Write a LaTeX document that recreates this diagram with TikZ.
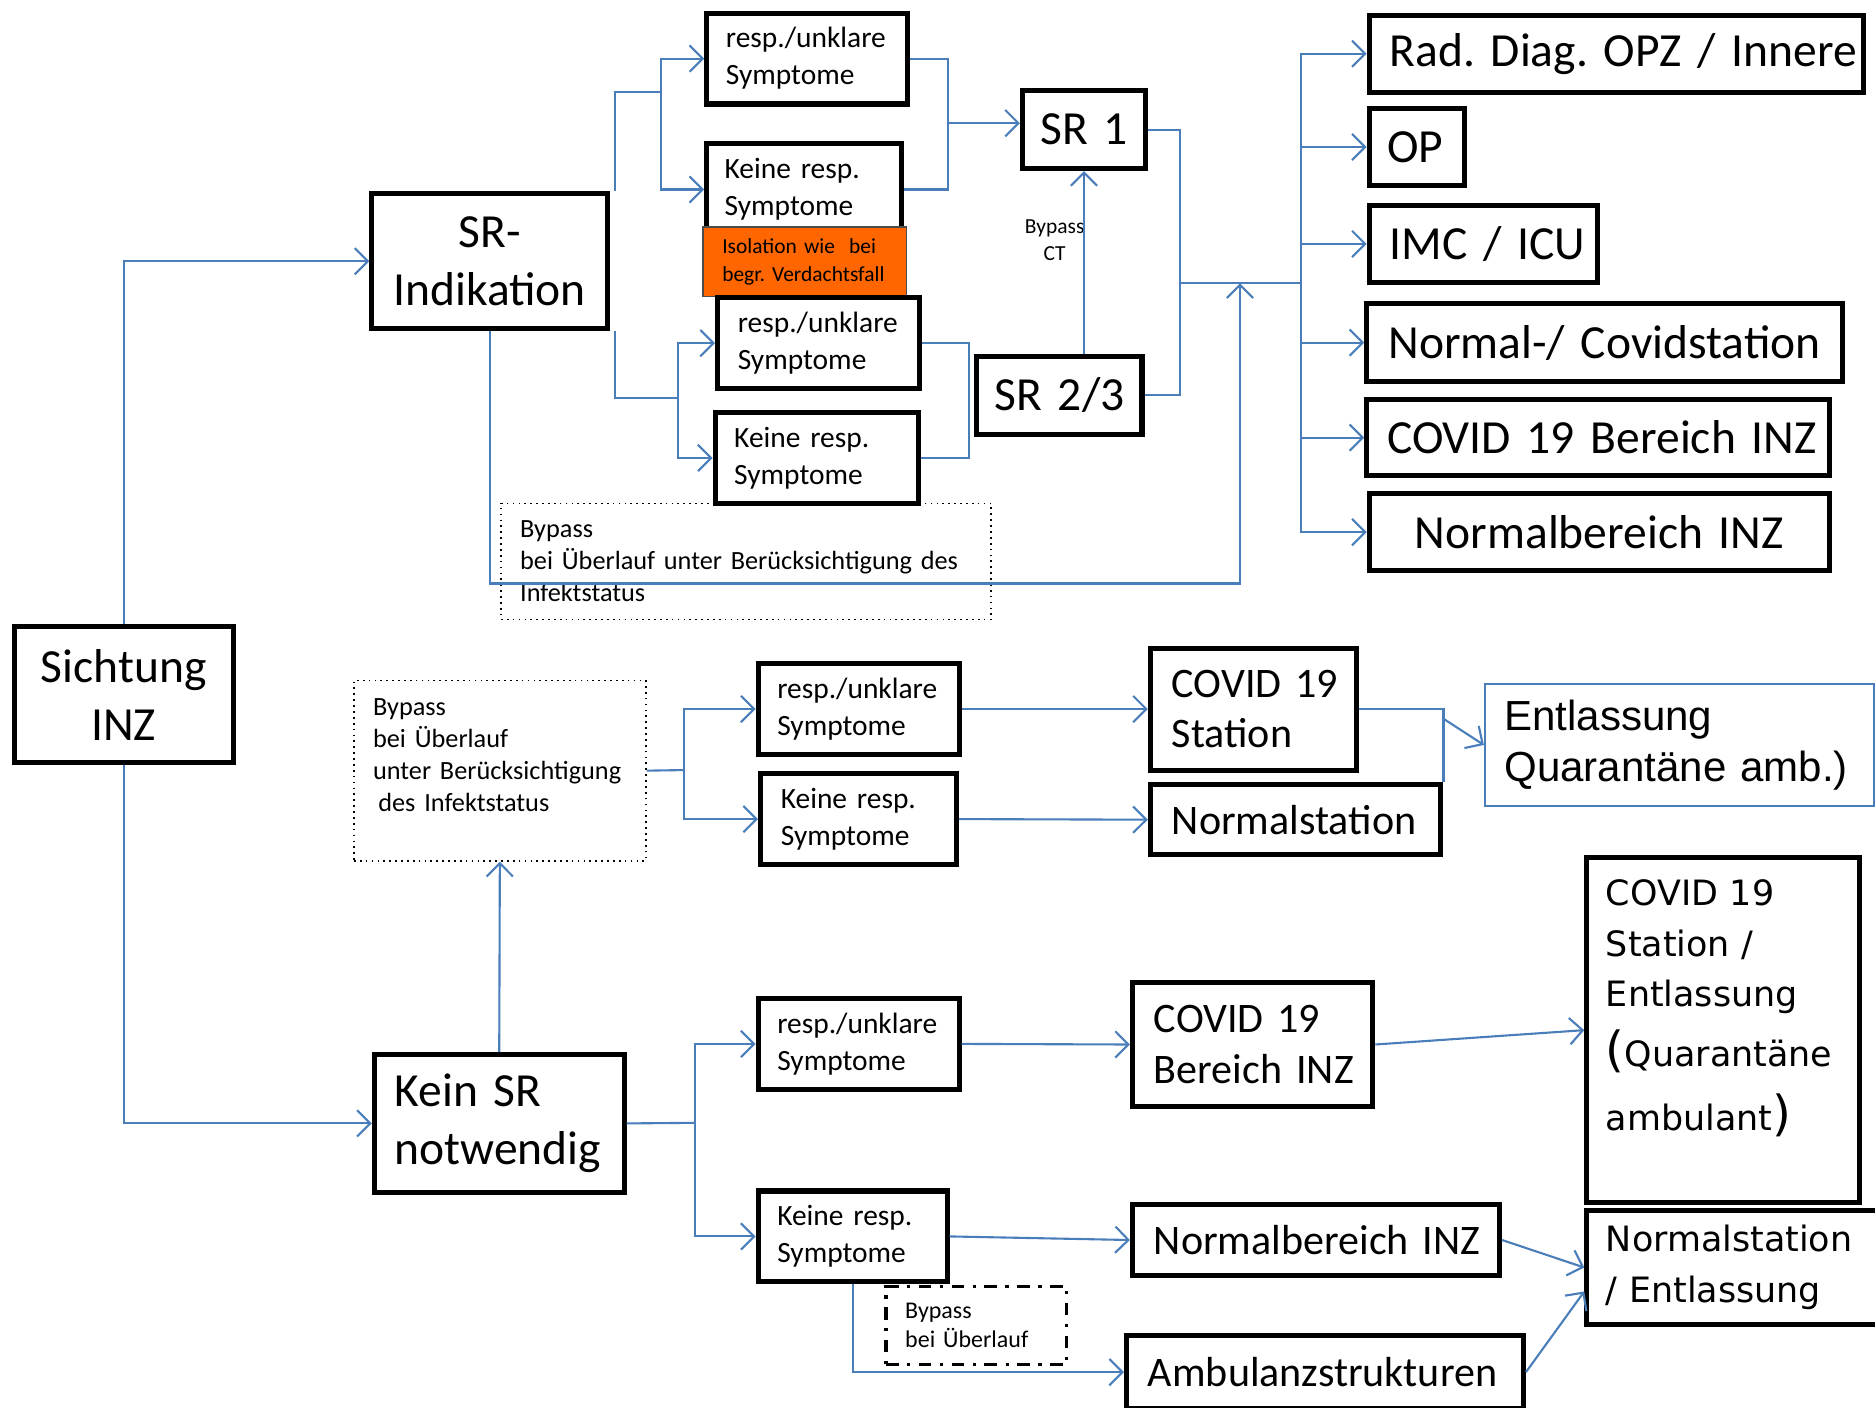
\documentclass[tikz,border=0pt]{standalone}
\usepackage{fontspec}
\setmainfont{Carlito}
\newfontfamily\verd{DejaVu Sans}
\newfontfamily\arial{Liberation Sans}
\usetikzlibrary{arrows.meta,calc}

\definecolor{flowblue}{RGB}{74,126,187}
\definecolor{isoorange}{RGB}{255,102,0}
\frenchspacing
\hyphenpenalty=10000
\exhyphenpenalty=10000
\newcommand\fsL{\fontsize{11.3}{13.7}\selectfont}
\newcommand\fsM{\fontsize{10}{11.9}\selectfont}
\newcommand\fsS{\fontsize{7}{8.8}\selectfont}
\newcommand\fsT{\fontsize{6.25}{7.6}\selectfont}
\newcommand\fsB{\fontsize{5.7}{6.8}\selectfont}
\newcommand\fsX{\fontsize{5.1}{6.5}\selectfont}
\newcommand\fsD{\verd\fontsize{8.3}{12}\selectfont}
\newcommand\fsA{\arial\fontsize{10}{12.2}\selectfont}
\newcommand\bigparen[1]{{\fontsize{11.5}{12}\selectfont #1}}

\begin{document}
\begin{tikzpicture}[x=0.01cm, y=-0.01cm,
    >={Straight Barb[length=1.1mm,width=2.2mm]},
    box/.style={draw, line width=1.2pt, fill=white, inner sep=0pt, align=left},
    sz/.style n args={3}{minimum width=#1*0.01cm, minimum height=#2*0.01cm, text width=#1*0.01cm-#3*0.02cm},
    flow/.style={draw=flowblue, line width=0.5pt},
    bypass/.style={draw, line width=0.4pt, densely dotted, inner sep=0pt, align=left, font=\fsT}]

      \useasboundingbox (0,0) rectangle (1568,1177);

      \node[box, sz={183}{114}{0}, align=center, font=\fsL] (sicht) at (103.5,581) {Sichtung\\INZ};
      \node[box, sz={197}{113}{0}, align=center, font=\fsL] (srind) at (409.5,218.5) {SR-\\Indikation};
      \node[box, sz={168}{76}{16}, font=\fsS] (ru1) at (675,49) {resp./unklare\\Symptome};
      \node[box, sz={163}{77}{15}, font=\fsS] (kr1) at (672.5,158.5) {\mbox{Keine resp.}\\Symptome};
      \node[draw=black!70, line width=0.4pt, fill=isoorange, inner sep=0pt, align=left, sz={170}{58}{16}, font=\fsX] (iso) at (673,219) {\mbox{Isolation wie~ bei}\\\mbox{begr. Verdachtsfall}};
      \node[box, sz={169}{76}{17}, font=\fsS] (ru2) at (684.5,287) {resp./unklare\\Symptome};
      \node[bypass, sz={410}{97}{16}] (bp1) at (624,469.5) {Bypass\\\mbox{bei Überlauf unter Berücksichtigung des}\\Infektstatus};
      \node[box, sz={170}{76}{16}, font=\fsS] (kr2) at (683,383) {\mbox{Keine resp.}\\Symptome};
      \node[box, sz={103}{65}{0}, align=center, font=\fsL] (sr1) at (906.5,108.5) {SR 1};
      \node[box, sz={138}{65}{0}, align=center, font=\fsL] (sr23) at (886,330.5) {SR 2/3};
      \node[font=\fsX, align=center] (bpct) at (882,201) {Bypass\\CT};

      \node[box, sz={413}{64}{17}, font=\fsL] (rad) at (1351.5,45) {\mbox{Rad. Diag. OPZ / Innere}};
      \node[box, sz={80}{64}{15}, font=\fsL] (op) at (1185,123) {OP};
      \node[box, sz={191}{64}{17}, font=\fsL] (imc) at (1240.5,204) {\mbox{IMC / ICU}};
      \node[box, sz={398}{65}{18}, font=\fsL] (ncov) at (1342,286.5) {\mbox{Normal-/ Covidstation}};
      \node[box, sz={387}{64}{17}, font=\fsL] (cov19) at (1336.5,366) {\mbox{COVID 19 Bereich INZ}};
      \node[box, sz={385}{64}{0}, align=center, font=\fsL] (nbi) at (1337.5,445) {Normalbereich INZ};

      \node[bypass, sz={244}{151}{16}] (bp2) at (418,644.5) {Bypass\\\mbox{bei Überlauf}\\\mbox{unter Berücksichtigung}\\\mbox{\hspace*{0.2em}des Infektstatus}\\\mbox{}};
      \node[box, sz={209}{115}{17}, font=\fsL] (kein) at (417.5,939.5) {\mbox{Kein SR}\\notwendig};
      \node[box, sz={168}{76}{16}, font=\fsS] (ru3) at (718,593) {resp./unklare\\Symptome};
      \node[box, sz={164}{76}{17}, font=\fsS] (kr3) at (718,685) {\mbox{Keine resp.}\\Symptome};
      \node[box, sz={172}{102}{18}, font=\fsM] (cs) at (1048,593) {\mbox{COVID 19}\\Station};
      \node[box, sz={243}{59}{18}, font=\fsM] (ns) at (1083.5,685.5) {Normalstation};
      \node[draw=flowblue, line width=0.6pt, inner sep=0pt, align=left, sz={325}{102}{16}, font=\fsA] (ent) at (1404.5,623) {Entlassung\\\mbox{Quarantäne amb.)}};

      \node[box, sz={168}{76}{16}, font=\fsS] (ru4) at (718,873) {resp./unklare\\Symptome};
      \node[box, sz={158}{76}{16}, font=\fsS] (kr4) at (713,1034) {\mbox{Keine resp.}\\Symptome};
      \node[box, sz={201}{103}{18}, font=\fsM] (cb) at (1047.5,873.5) {\mbox{COVID 19}\\\mbox{Bereich INZ}};
      \node[box, sz={307}{60}{18}, font=\fsM] (nb2) at (1100.5,1037) {\mbox{Normalbereich INZ}};
      \node[draw, line width=0.8pt, dash dot, inner sep=0pt, align=left, sz={151}{65}{16}, font=\fsB] (bp3) at (816.5,1108.5) {Bypass\\\mbox{bei Überlauf}};
      \node[box, sz={332}{61}{18}, font=\fsM] (amb) at (1108,1147.5) {Ambulanzstrukturen};
      \node[box, sz={253}{96}{16}, font=\fsD] (neE) at (1453.5,1060) {\mbox{Normalstation}\\\mbox{/ Entlassung}};
      \node[box, sz={228}{289}{16}, font=\fsD] (csE) at (1441,861.5) {\mbox{COVID 19}\\\mbox{Station /}\\Entlassung\\[2.3pt]\mbox{\bigparen{(}Quarantäne}\\[3.1pt]ambulant\bigparen{)}\\\mbox{}};

      \coordinate (fork1) at (553,77);
      \coordinate (fork2) at (567,333);
      \coordinate (m1) at (793,103);
      \coordinate (m2) at (810,335);
      \coordinate (mergeR) at (987,237);
      \coordinate (hub) at (1088,237);
      \coordinate (bp1low) at (1037,488);
      \coordinate (bp1in) at (1037,237);
      \coordinate (fork3) at (572,644);
      \coordinate (fork4) at (581,939);
      \coordinate (entin) at (1207,601);

      \draw[flow, ->] (sicht.north) |- (srind.west);
      \draw[flow] (514,160) |- (fork1);
      \draw[flow, ->] (fork1) |- (ru1.west);
      \draw[flow, ->] (fork1) |- (kr1.west);
      \draw[flow] (514,277) |- (fork2);
      \draw[flow, ->] (fork2) |- (ru2.west);
      \draw[flow, ->] (fork2) |- (kr2.west);
      \draw[flow] (ru1.east) -| (m1) |- (kr1.east);
      \draw[flow, ->] (m1) -- (m1 -| sr1.west);
      \draw[flow] (ru2.east) -| (m2) |- (kr2.east);
      \draw[flow, ->] (sr23.north -| sr1.south) -- (sr1.south);
      \draw[flow] (sr1.east) -| (mergeR) |- (sr23.east);
      \draw[flow] (mergeR) -- (hub);
      \foreach \n in {rad,op,imc,ncov,cov19,nbi}
        \draw[flow, ->] (hub) |- (\n.west);
      \draw[flow, ->] (srind.south) |- (bp1low) -- (bp1in);

      \draw[flow, ->] (sicht.south) |- (kein.west);
      \draw[flow, ->] (kein.north) -- (bp2.south);
      \draw[flow] (bp2.east) -- (fork3);
      \draw[flow, ->] (fork3) |- (ru3.west);
      \draw[flow, ->] (fork3) |- (kr3.west);
      \draw[flow, ->] (ru3.east) -- (cs.west);
      \draw[flow, ->] (kr3.east) -- (ns.west);
      \draw[flow] (cs.east) -| (ns.north east);
      \draw[flow, ->] (entin) -- (ent.west);

      \draw[flow] (kein.east) -- (fork4);
      \draw[flow, ->] (fork4) |- (ru4.west);
      \draw[flow, ->] (fork4) |- (kr4.west);
      \draw[flow, ->] (ru4.east) -- (cb.west);
      \draw[flow, ->] (cb.east) -- (csE.west);
      \draw[flow, ->] (kr4.east) -- (nb2.west);
      \draw[flow, ->] (nb2.east) -- (neE.west);
      \draw[flow, ->] (kr4.south) |- (amb.west);
      \draw[flow, ->] (amb.east) -- ($(neE.west)!0.4!(neE.south west)$);
    \end{tikzpicture}
\end{document}
